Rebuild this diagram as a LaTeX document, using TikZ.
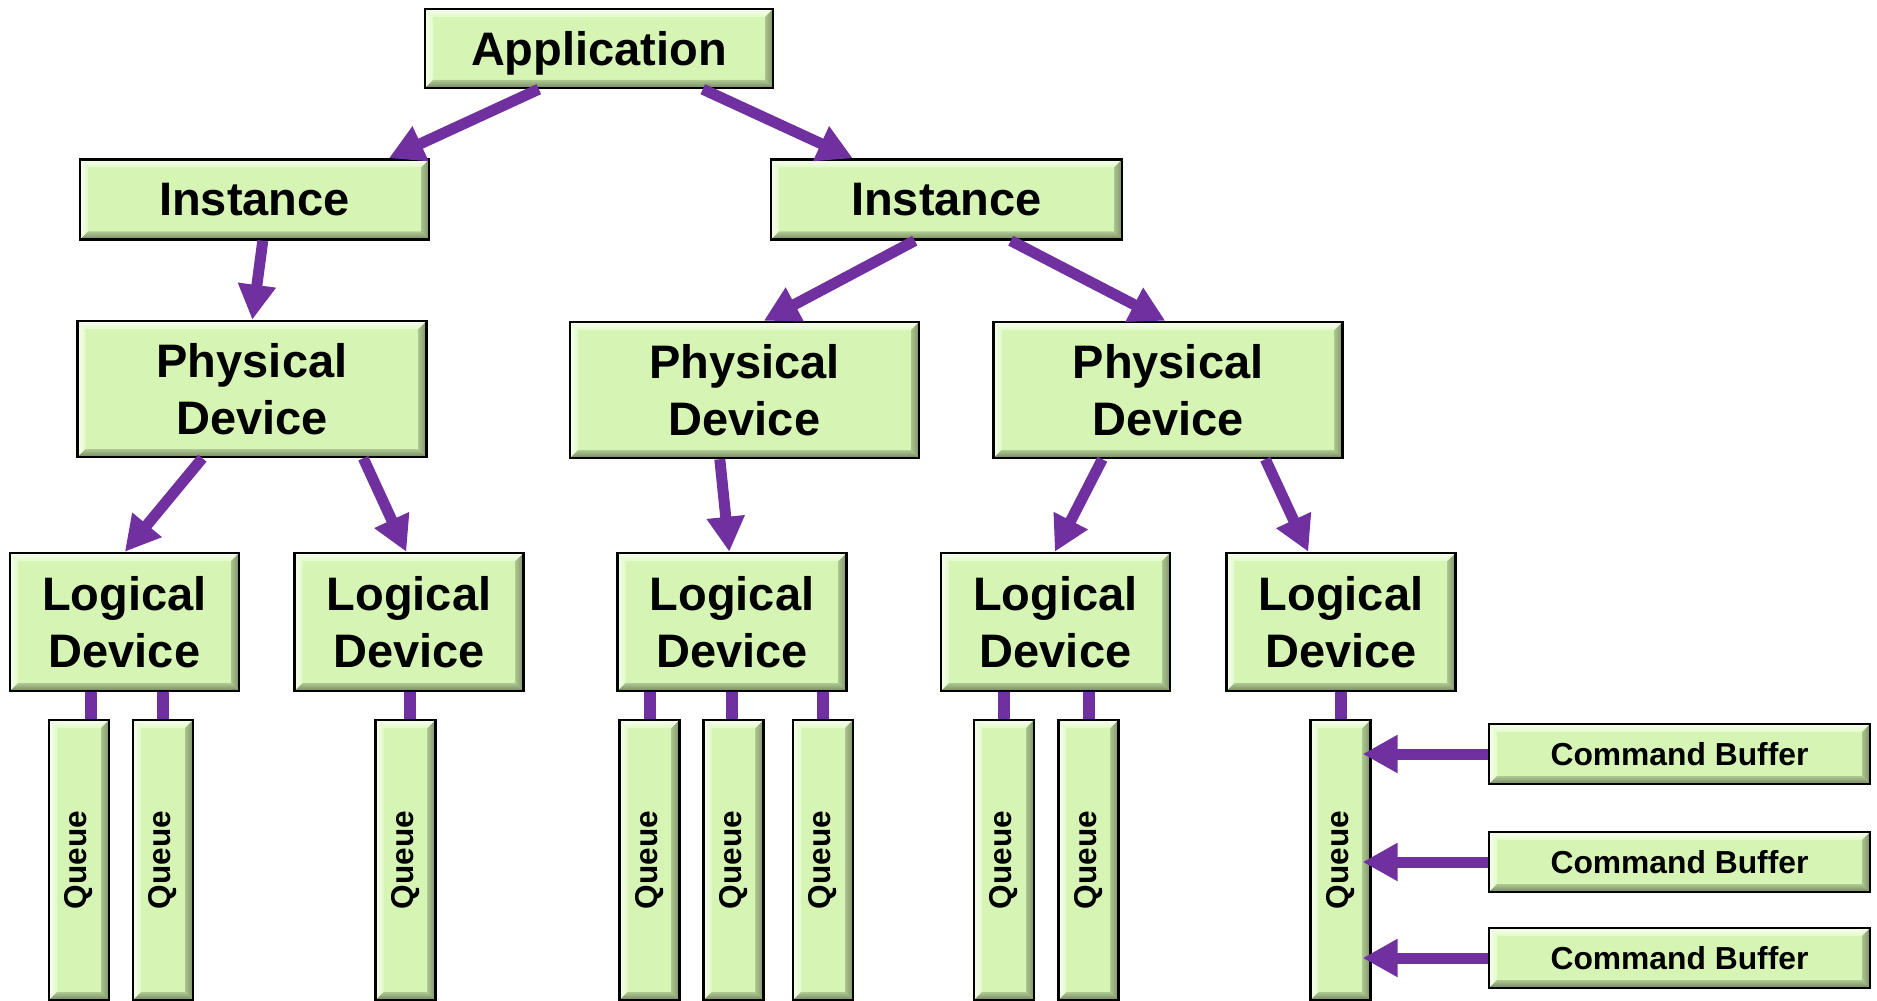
\documentclass[tikz,border=0pt]{standalone}
\usepackage{fontspec}
\setmainfont{Liberation Sans}
\usetikzlibrary{arrows.meta,calc}
\definecolor{boxg}{HTML}{D6F5B5}
\definecolor{bevlight}{HTML}{F6FFEC}
\definecolor{bevdark}{HTML}{74875E}
\definecolor{vkpurple}{HTML}{7030A0}
\newcommand\BevPic{%
  \coordinate (bNW) at (path picture bounding box.north west);
  \coordinate (bNE) at (path picture bounding box.north east);
  \coordinate (bSW) at (path picture bounding box.south west);
  \coordinate (bSE) at (path picture bounding box.south east);
  \shade[top color=bevlight, bottom color=boxg!60!bevlight] (bNW) -- (bNE) -- ($(bNE)+(-4pt,-4pt)$) -- ($(bNW)+(4pt,-4pt)$) -- cycle;
  \shade[left color=bevlight, right color=boxg!60!bevlight] (bNW) -- ($(bNW)+(4pt,-4pt)$) -- ($(bSW)+(4pt,4pt)$) -- (bSW) -- cycle;
  \shade[top color=boxg!60!bevdark, bottom color=bevdark] (bSW) -- ($(bSW)+(4pt,4pt)$) -- ($(bSE)+(-4pt,4pt)$) -- (bSE) -- cycle;
  \shade[left color=boxg!55!bevdark, right color=bevdark!90!boxg] (bNE) -- (bSE) -- ($(bSE)+(-4pt,4pt)$) -- ($(bNE)+(-4pt,-4pt)$) -- cycle;
}
\tikzset{
  bx/.style={rectangle, draw=black, line width=1.2pt, fill=boxg, inner sep=0pt,
    align=center, path picture={\BevPic},
    font=\fontsize{23.5}{28.5}\selectfont\bfseries},
  qbx/.style={bx, minimum width=30pt, minimum height=140pt,
    font=\fontsize{15.8}{18}\selectfont\bfseries},
  cbx/.style={bx, minimum width=190.5pt, minimum height=30pt,
    font=\fontsize{15.9}{18}\selectfont\bfseries},
  ldbx/.style={bx, minimum width=114.5pt, minimum height=69pt},
  pdbx/.style={bx, minimum width=174.5pt, minimum height=68pt},
  arr/.style={draw=vkpurple, line width=5.5pt, line cap=butt,
    -{Triangle[length=17.5pt,width=18pt]}},
  conn/.style={draw=vkpurple, line width=6pt, line cap=butt},
}
\begin{document}
\begin{tikzpicture}[x=0.5pt, y=-0.5pt]
\useasboundingbox (0,0) rectangle (1877,1000);
% top levels
\node[bx, minimum width=174pt, minimum height=39.5pt, text depth=0pt] (app) at (599,48.5) {Application};
\node[bx, minimum width=174.5pt, minimum height=40pt] (instL) at (254.5,199.5) {Instance};
\node[bx, minimum width=175.5pt, minimum height=40pt] (instR) at (946.5,199.5) {Instance};
\node[pdbx] (pd1) at (252,389) {Physical\\Device};
\node[pdbx] (pd2) at (744.5,390) {Physical\\Device};
\node[pdbx] (pd3) at (1168,390) {Physical\\Device};
% logical devices
\node[ldbx] (ld1) at (124.5,622) {Logical\\Device};
\node[ldbx] (ld2) at (409,622) {Logical\\Device};
\node[ldbx] (ld3) at (732,622) {Logical\\Device};
\node[ldbx] (ld4) at (1055.5,622) {Logical\\Device};
\node[ldbx] (ld5) at (1341,622) {Logical\\Device};
% queues
\node[qbx] (q1) at (79,860) {\rotatebox{90}{Queue}};
\node[qbx] (q2) at (163,860) {\rotatebox{90}{Queue}};
\node[qbx] (q3) at (405.5,860) {\rotatebox{90}{Queue}};
\node[qbx] (q4) at (649.5,860) {\rotatebox{90}{Queue}};
\node[qbx] (q5) at (733.5,860) {\rotatebox{90}{Queue}};
\node[qbx] (q6) at (823,860) {\rotatebox{90}{Queue}};
\node[qbx] (q7) at (1004,860) {\rotatebox{90}{Queue}};
\node[qbx] (q8) at (1088.5,860) {\rotatebox{90}{Queue}};
\node[qbx] (q9) at (1340.5,860) {\rotatebox{90}{Queue}};
% command buffers
\node[cbx] (cb1) at (1679.5,754) {Command Buffer};
\node[cbx] (cb2) at (1679.5,862) {Command Buffer};
\node[cbx] (cb3) at (1679.5,958) {Command Buffer};
% tree arrows
\draw[arr] ([xshift=57.5pt]app.south west) -- ([xshift=155pt]instL.north west);
\draw[arr] ([xshift=139.5pt]app.south west) -- ([xshift=41.5pt]instR.north west);
\draw[arr] ([xshift=92pt]instL.south west) -- ([xshift=88pt]pd1.north west);
\draw[arr] ([xshift=72.5pt]instR.south west) -- ([xshift=97.5pt]pd2.north west);
\draw[arr] ([xshift=120.5pt]instR.south west) -- ([xshift=86.5pt]pd3.north west);
\draw[arr] ([xshift=63pt]pd1.south west) -- ([xshift=58pt]ld1.north west);
\draw[arr] ([xshift=143.5pt]pd1.south west) -- ([xshift=56.5pt]ld2.north west);
\draw[arr] ([xshift=75.5pt]pd2.south west) -- ([xshift=56.5pt]ld3.north west);
\draw[arr] ([xshift=55pt]pd3.south west) -- ([xshift=57.5pt]ld4.north west);
\draw[arr] ([xshift=136.5pt]pd3.south west) -- ([xshift=41.5pt]ld5.north west);
% logical device to queue links
\draw[conn] ([xshift=6pt]q1.north |- ld1.south) -- ([xshift=6pt]q1.north);
\draw[conn] (q2.north |- ld1.south) -- (q2.north);
\draw[conn] ([xshift=2pt]q3.north |- ld2.south) -- ([xshift=2pt]q3.north);
\draw[conn] (q4.north |- ld3.south) -- (q4.north);
\draw[conn] ([xshift=-1pt]q5.north |- ld3.south) -- ([xshift=-1pt]q5.north);
\draw[conn] (q6.north |- ld3.south) -- (q6.north);
\draw[conn] (q7.north |- ld4.south) -- (q7.north);
\draw[conn] (q8.north |- ld4.south) -- (q8.north);
\draw[conn] (q9.north |- ld5.south) -- (q9.north);
% command buffers to queue
\draw[arr] (cb1.west) -- ([xshift=-4.5pt]q9.east |- cb1.west);
\draw[arr] (cb2.west) -- ([xshift=-4.5pt]q9.east |- cb2.west);
\draw[arr] (cb3.west) -- ([xshift=-4.5pt]q9.east |- cb3.west);
\end{tikzpicture}
\end{document}
